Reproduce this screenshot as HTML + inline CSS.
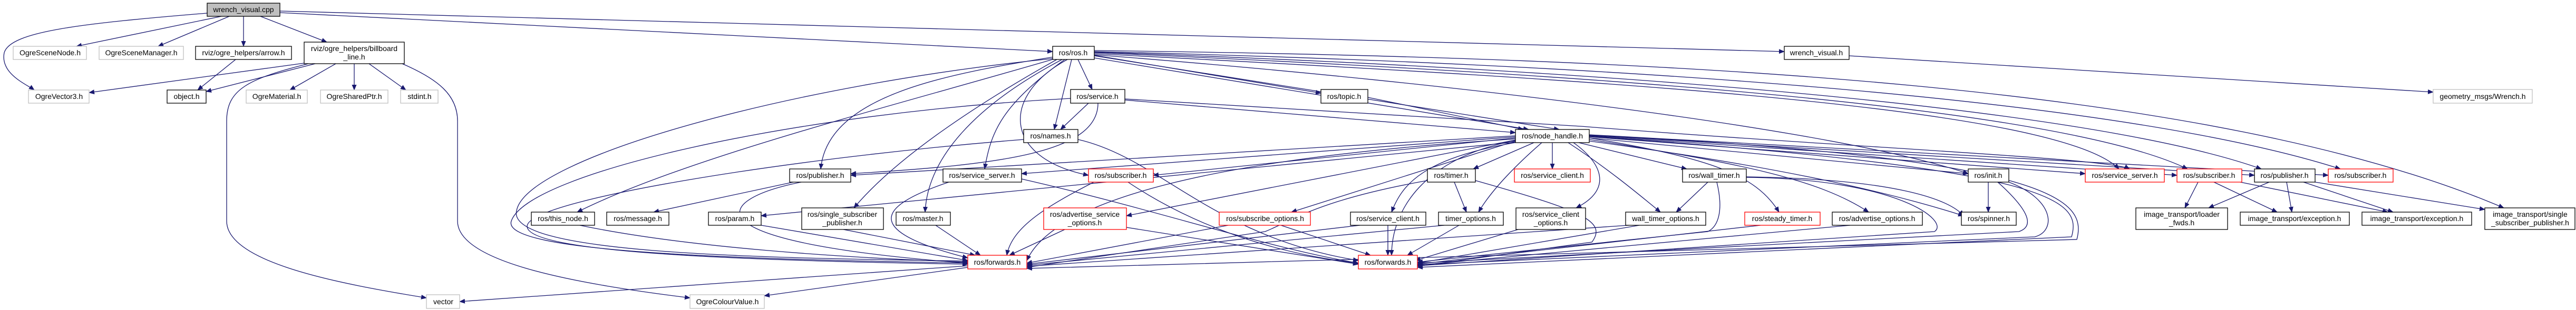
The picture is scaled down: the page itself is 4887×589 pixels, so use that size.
<!DOCTYPE html>
<html><head><meta charset="utf-8"><style>
html,body{margin:0;padding:0;background:#fff;}
svg{display:block;}
text{font-family:"Liberation Sans",sans-serif;font-size:14px;fill:#000;text-anchor:middle;}
.e{fill:none;stroke:#191970;stroke-width:1.3;marker-end:url(#a);}
.b{fill:#fff;stroke:#000;stroke-width:1.3;}
.g{fill:#fff;stroke:#bfbfbf;stroke-width:1.3;}
.r{fill:#fff;stroke:#ff0000;stroke-width:1.3;}
</style></head><body>
<svg width="4887" height="589" viewBox="0 0 4887 589" xmlns="http://www.w3.org/2000/svg">
<defs><marker id="a" markerUnits="userSpaceOnUse" markerWidth="11" markerHeight="9" refX="10" refY="4.5" orient="auto"><path d="M0,0 L11,4.5 L0,9 z" fill="#191970"/></marker></defs>
<g>
<!-- wrench_visual.cpp edges -->
<path class="e" d="M420,31 L145,88"/>
<path class="e" d="M435,31 L300,88"/>
<path class="e" d="M462,31 L462,88"/>
<path class="e" d="M494,31 L620,80"/>
<path class="e" d="M393,25 C150,45 20,60 8,100 C0,140 50,160 65,171"/>
<path class="e" d="M531,24 L1997,98"/>
<path class="e" d="M531,21 L3385,98"/>
<path class="e" d="M447,113 L375,171"/>
<path class="e" d="M577,120 L169,176"/>
<path class="e" d="M598,121 L391,174"/>
<path class="e" d="M637,121 L550,171"/>
<path class="e" d="M672,121 L672,171"/>
<path class="e" d="M700,121 L770,171"/>
<path class="e" d="M585,121 C470,150 430,170 430,230 L430,420 C430,500 650,540 809,566"/>
<path class="e" d="M763,121 C830,150 868,180 868,230 L868,420 C868,500 1100,540 1309,566"/>
<path class="e" d="M1836,505 L872,573"/>
<path class="e" d="M1836,508 L1450,562"/>
<!-- ros.h edges -->
<path class="e" d="M2000,108 C1800,140 1570,180 1557,321"/>
<path class="e" d="M2000,112 C1700,200 1300,300 1095,403"/>
<path class="e" d="M2005,113 C1850,200 1700,300 1620,395"/>
<path class="e" d="M2015,113 C1850,200 1760,300 1755,403"/>
<path class="e" d="M2020,113 C1900,200 1880,250 1868,321"/>
<path class="e" d="M2033,113 L2000,246"/>
<path class="e" d="M2045,113 L2072,170"/>
<path class="e" d="M2025,113 C1900,180 1900,300 2065,333"/>
<path class="e" d="M2076,105 L2506,177"/>
<path class="e" d="M2076,110 L2900,246"/>
<path class="e" d="M2076,106 L2958,246"/>
<path class="e" d="M2076,104 C2800,160 3500,250 3734,330"/>
<path class="e" d="M2076,102 C3000,150 3900,200 4020,321"/>
<path class="e" d="M2076,100 C3000,140 3900,200 4150,321"/>
<path class="e" d="M2076,99 C3000,130 3950,200 4290,321"/>
<path class="e" d="M2076,98 C3000,120 4000,180 4440,321"/>
<path class="e" d="M2076,96 C3200,110 4200,160 4750,395"/>
<path class="e" d="M2010,110 C1500,160 1000,300 980,400 C960,480 1400,490 1836,496"/>
<!-- service.h / names / topic -->
<path class="e" d="M2065,196 L2012,246"/>
<path class="e" d="M2083,196 C2083,290 1900,313 1614,330"/>
<path class="e" d="M2031,187 C1500,215 1000,330 970,420 C950,480 1400,492 1836,500"/>
<path class="e" d="M2134,190 L2875,252"/>
<path class="e" d="M2134,188 L3000,240 C3500,280 4000,300 4040,321"/>
<path class="e" d="M2045,265 C2200,300 2300,450 2577,495"/>
<path class="e" d="M1942,265 C1500,300 1000,380 1000,430 C1000,480 1400,495 1836,502"/>
<path class="e" d="M2595,185 L2890,246"/>
<!-- row 4/5 to forwards -->
<path class="e" d="M1505,346 L1240,403"/>
<path class="e" d="M1520,346 C1350,380 1300,460 1836,500"/>
<path class="e" d="M1100,428 C1300,470 1600,490 1836,498"/>
<path class="e" d="M1444,428 L1836,495"/>
<path class="e" d="M1600,436 L1850,485"/>
<path class="e" d="M1775,428 L1860,485"/>
<path class="e" d="M1938,340 C2200,400 2400,470 2577,500"/>
<path class="e" d="M1800,346 C1700,380 1600,430 1836,490"/>
<path class="e" d="M2075,346 C1990,390 1920,430 1910,485"/>
<path class="e" d="M2140,346 C2250,420 2400,480 2577,500"/>
<path class="e" d="M2020,436 L1915,485"/>
<path class="e" d="M2137,432 L2577,502"/>
<path class="e" d="M2330,428 L1948,500"/>
<path class="e" d="M2430,428 L2600,485"/>
<path class="e" d="M2633,428 L2633,485"/>
<path class="e" d="M2580,428 L1948,502"/>
<path class="e" d="M2768,428 L2670,485"/>
<path class="e" d="M2740,428 L1948,504"/>
<path class="e" d="M2880,436 L2685,495"/>
<path class="e" d="M3090,428 L1948,506"/>
<path class="e" d="M3110,428 L2689,500"/>
<path class="e" d="M3340,428 L2689,502"/>
<path class="e" d="M3510,428 L2689,504"/>
<path class="e" d="M3257,346 C3270,400 3260,430 3240,440 L2689,498"/>
<path class="e" d="M2708,343 C2500,380 2450,420 2400,440 L1948,508"/>
<path class="e" d="M2799,343 C3000,400 3050,420 3020,460 L2689,506"/>
<path class="e" d="M3790,346 C3850,400 3860,430 3830,440 L2689,500"/>
<path class="e" d="M3811,346 C3900,380 3900,440 3860,450 L2689,503"/>
<path class="e" d="M3313,337 C3600,340 3700,420 3670,440 L2689,505"/>
<path class="e" d="M3000,258 C3900,320 3950,380 3930,450 L2689,508"/>
<path class="e" d="M3000,256 C3900,300 3960,380 3940,455 L1948,510"/>
<!-- node_handle edges -->
<path class="e" d="M2910,271 L2795,321"/>
<path class="e" d="M2945,271 L2945,321"/>
<path class="e" d="M2995,271 L3200,321"/>
<path class="e" d="M2880,270 C2700,300 2660,350 2640,403"/>
<path class="e" d="M2925,271 C2880,310 2830,360 2805,403"/>
<path class="e" d="M2985,271 C3040,310 3060,360 2990,395"/>
<path class="e" d="M2975,271 C3050,320 3110,370 3150,403"/>
<path class="e" d="M3015,262 C3240,300 3330,330 3375,403"/>
<path class="e" d="M3015,265 C3300,310 3450,340 3545,403"/>
<path class="e" d="M3015,268 C3400,320 3600,370 3725,410"/>
<path class="e" d="M3015,262 L3734,330"/>
<path class="e" d="M3015,260 L3956,330"/>
<path class="e" d="M3015,258 L4130,333"/>
<path class="e" d="M3015,257 L4277,333"/>
<path class="e" d="M3015,256 L4417,333"/>
<path class="e" d="M2875,268 L2450,403"/>
<path class="e" d="M2875,266 L2137,410"/>
<path class="e" d="M2875,262 L2188,333"/>
<path class="e" d="M2875,260 L1938,330"/>
<path class="e" d="M2875,258 L1614,333"/>
<path class="e" d="M2875,270 L1444,410"/>
<path class="e" d="M2875,264 C2300,300 2000,380 1948,495"/>
<path class="e" d="M2875,267 C2700,300 2640,400 2640,485"/>
<path class="e" d="M3772,346 L3772,403"/>
<path class="e" d="M3240,346 L3180,403"/>
<path class="e" d="M2759,346 L2782,403"/>
<path class="e" d="M3508,106 L4616,175"/>
<path class="e" d="M3313,336 C3600,340 3700,380 3725,410"/>
<!-- image_transport -->
<path class="e" d="M4170,346 L4145,395"/>
<path class="e" d="M4200,346 L4320,403"/>
<path class="e" d="M4250,346 L4530,403"/>
<path class="e" d="M4305,346 L4190,395"/>
<path class="e" d="M4338,346 L4348,403"/>
<path class="e" d="M4370,346 L4540,403"/>
<path class="e" d="M4392,346 L4714,398"/>
</g>
<g>
<rect x="393" y="6" width="138" height="25" fill="#bfbfbf" stroke="#000" stroke-width="1.3"/><text x="462" y="23">wrench_visual.cpp</text>
<rect class="g" x="25" y="88" width="139" height="25"/><text x="95" y="105">OgreSceneNode.h</text>
<rect class="g" x="188" y="88" width="160" height="25"/><text x="268" y="105">OgreSceneManager.h</text>
<rect class="b" x="371" y="88" width="182" height="25"/><text x="462" y="105">rviz/ogre_helpers/arrow.h</text>
<rect class="b" x="577" y="80" width="190" height="41"/><text x="672" y="97">rviz/ogre_helpers/billboard</text><text x="672" y="113">_line.h</text>
<rect class="g" x="54" y="171" width="115" height="25"/><text x="112" y="188">OgreVector3.h</text>
<rect class="b" x="317" y="171" width="74" height="25"/><text x="354" y="188">object.h</text>
<rect class="g" x="467" y="171" width="116" height="25"/><text x="525" y="188">OgreMaterial.h</text>
<rect class="g" x="608" y="171" width="128" height="25"/><text x="672" y="188">OgreSharedPtr.h</text>
<rect class="g" x="760" y="171" width="71" height="25"/><text x="796" y="188">stdint.h</text>
<rect class="g" x="809" y="560" width="63" height="26"/><text x="841" y="578">vector</text>
<rect class="g" x="1309" y="560" width="141" height="26"/><text x="1380" y="578">OgreColourValue.h</text>
<rect class="b" x="1008" y="403" width="120" height="25"/><text x="1068" y="420">ros/this_node.h</text>
<rect class="b" x="1151" y="403" width="118" height="25"/><text x="1210" y="420">ros/message.h</text>
<rect class="b" x="1344" y="403" width="100" height="25"/><text x="1394" y="420">ros/param.h</text>
<rect class="b" x="1498" y="321" width="116" height="25"/><text x="1556" y="338">ros/publisher.h</text>
<rect class="b" x="1521" y="395" width="155" height="41"/><text x="1598" y="412">ros/single_subscriber</text><text x="1598" y="428">_publisher.h</text>
<rect class="b" x="1997" y="88" width="79" height="25"/><text x="2036" y="105">ros/ros.h</text>
<rect class="b" x="2031" y="170" width="103" height="26"/><text x="2082" y="188">ros/service.h</text>
<rect class="b" x="1942" y="246" width="103" height="25"/><text x="1993" y="263">ros/names.h</text>
<rect class="b" x="1789" y="321" width="149" height="25"/><text x="1863" y="338">ros/service_server.h</text>
<rect class="r" x="2065" y="321" width="123" height="25"/><text x="2126" y="338">ros/subscriber.h</text>
<rect class="b" x="1700" y="403" width="103" height="25"/><text x="1751" y="420">ros/master.h</text>
<rect class="r" x="1980" y="395" width="157" height="41"/><text x="2058" y="412">ros/advertise_service</text><text x="2058" y="428">_options.h</text>
<rect class="r" x="2313" y="403" width="173" height="25"/><text x="2400" y="420">ros/subscribe_options.h</text>
<rect class="r" x="1836" y="485" width="112" height="26"/><text x="1892" y="503">ros/forwards.h</text>
<rect class="b" x="2506" y="170" width="89" height="26"/><text x="2550" y="188">ros/topic.h</text>
<rect class="b" x="2875" y="246" width="140" height="25"/><text x="2945" y="263">ros/node_handle.h</text>
<rect class="b" x="2708" y="321" width="91" height="25"/><text x="2753" y="338">ros/timer.h</text>
<rect class="r" x="2873" y="321" width="144" height="25"/><text x="2945" y="338">ros/service_client.h</text>
<rect class="b" x="3192" y="321" width="121" height="25"/><text x="3252" y="338">ros/wall_timer.h</text>
<rect class="b" x="2562" y="403" width="143" height="25"/><text x="2633" y="420">ros/service_client.h</text>
<rect class="b" x="2729" y="403" width="123" height="25"/><text x="2790" y="420">timer_options.h</text>
<rect class="b" x="2876" y="395" width="132" height="41"/><text x="2942" y="412">ros/service_client</text><text x="2942" y="428">_options.h</text>
<rect class="b" x="3084" y="403" width="152" height="25"/><text x="3160" y="420">wall_timer_options.h</text>
<rect class="r" x="2577" y="485" width="112" height="26"/><text x="2633" y="503">ros/forwards.h</text>
<rect class="b" x="3385" y="88" width="123" height="25"/><text x="3446" y="105">wrench_visual.h</text>
<rect class="r" x="3310" y="403" width="143" height="25"/><text x="3381" y="420">ros/steady_timer.h</text>
<rect class="b" x="3476" y="403" width="171" height="25"/><text x="3561" y="420">ros/advertise_options.h</text>
<rect class="b" x="3734" y="321" width="77" height="25"/><text x="3772" y="338">ros/init.h</text>
<rect class="b" x="3721" y="403" width="104" height="25"/><text x="3773" y="420">ros/spinner.h</text>
<rect class="r" x="3956" y="321" width="150" height="25"/><text x="4031" y="338">ros/service_server.h</text>
<rect class="g" x="4616" y="170" width="188" height="26"/><text x="4710" y="188">geometry_msgs/Wrench.h</text>
<rect class="r" x="4130" y="321" width="123" height="25"/><text x="4191" y="338">ros/subscriber.h</text>
<rect class="b" x="4277" y="321" width="115" height="25"/><text x="4334" y="338">ros/publisher.h</text>
<rect class="r" x="4417" y="321" width="123" height="25"/><text x="4478" y="338">ros/subscriber.h</text>
<rect class="b" x="4052" y="395" width="174" height="41"/><text x="4139" y="412">image_transport/loader</text><text x="4139" y="428">_fwds.h</text>
<rect class="b" x="4250" y="403" width="207" height="25"/><text x="4353" y="420">image_transport/exception.h</text>
<rect class="b" x="4481" y="403" width="208" height="25"/><text x="4585" y="420">image_transport/exception.h</text>
<rect class="b" x="4714" y="395" width="171" height="41"/><text x="4800" y="412">image_transport/single</text><text x="4800" y="428">_subscriber_publisher.h</text>
</g>
</svg>
</body></html>
